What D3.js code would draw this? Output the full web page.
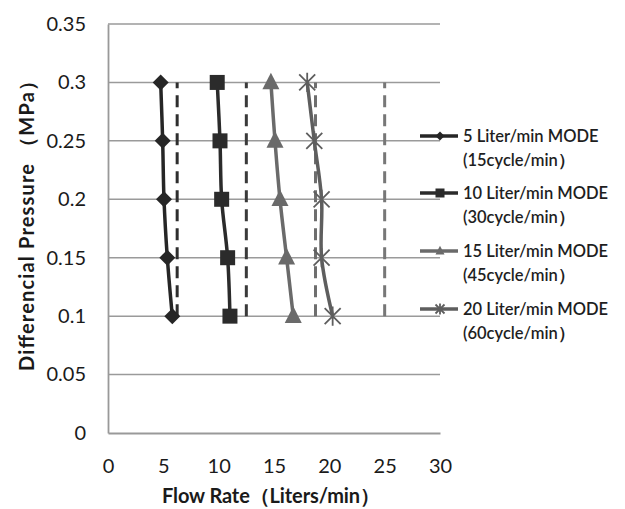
<!DOCTYPE html>
<html>
<head>
<meta charset="utf-8">
<script src="https://cdn.jsdelivr.net/npm/d3@7"></script>
<style>
  html, body { margin: 0; padding: 0; background: #fff; }
  svg { display: block; font-family: Lato, "Open Sans", sans-serif; }
</style>
</head>
<body>
<svg id="chart" width="625" height="509"></svg>
<script>
// Differential pressure levels (MPa) at which each mode was measured
const pressure = [0.3, 0.25, 0.2, 0.15, 0.1];

// Measured flow rate (L/min) per mode, ordered like `pressure`
const flow5  = [4.76, 4.94, 5.06, 5.36, 5.81];
const flow10 = [9.87, 10.12, 10.27, 10.81, 11.02];
const flow15 = [14.72, 15.09, 15.54, 16.14, 16.74];
const flow20 = [18.0, 18.64, 19.3, 19.3, 20.3];

// Nominal flow of each mode, drawn as dashed reference lines
const nominalFlow = [6.25, 12.5, 18.75, 25];
const nominalRange = [0.1, 0.3];

const seriesNames = [
  ["5 Liter/min MODE", "(15cycle/min）"],
  ["10 Liter/min MODE", "(30cycle/min）"],
  ["15 Liter/min MODE", "(45cycle/min）"],
  ["20 Liter/min MODE", "(60cycle/min）"]
];
const seriesMarkers = ["diamond", "square", "triangle", "asterisk"];
const seriesColors = ["#262626", "#2b2b2b", "#6a6a6a", "#5e5e5e"];
const nominalColors = ["#2e2e2e", "#3a3a3a", "#6e6e6e", "#777777"];

const xTicks = [0, 5, 10, 15, 20, 25, 30];
const yTicks = [0, 0.05, 0.1, 0.15, 0.2, 0.25, 0.3, 0.35];

const xTitle = "Flow Rate（Liters/min）";
const yTitle = "Differencial Pressure （MPa）";

const svg = d3.select("#chart");
const plot = { left: 108, right: 440, top: 24, bottom: 433 };

const x = d3.scaleLinear().domain([0, 30]).range([plot.left, plot.right]);
const y = d3.scaleLinear().domain([0, 0.35]).range([plot.bottom, plot.top]);

// Horizontal gridlines
svg.append("g")
  .selectAll("line")
  .data(yTicks.filter(d => d > 0))
  .join("line")
  .attr("x1", x(0)).attr("x2", x(30))
  .attr("y1", d => y(d)).attr("y2", d => y(d))
  .attr("stroke", "#9a9a9a").attr("stroke-width", 1.5);

// Axes (lines and labels, no tick marks)
const yAxis = svg.append("g")
  .attr("transform", `translate(${plot.left},0)`)
  .call(d3.axisLeft(y).tickValues(yTicks).tickSize(0).tickPadding(22)
    .tickFormat(d => String(+d.toFixed(2))));
const xAxis = svg.append("g")
  .attr("transform", `translate(0,${plot.bottom})`)
  .call(d3.axisBottom(x).tickValues(xTicks).tickSize(0).tickPadding(26));

[yAxis, xAxis].forEach(g => {
  g.select(".domain").attr("stroke", "#999").attr("stroke-width", 1.8);
  g.selectAll(".tick text")
    .attr("font-family", "Lato, sans-serif")
    .attr("font-size", 20)
    .attr("fill", "#1a1a1a");
});
xAxis.selectAll(".tick text").attr("dy", "0.71em");

// Dashed nominal-flow lines
svg.append("g")
  .selectAll("line")
  .data(nominalFlow)
  .join("line")
  .attr("x1", d => x(d)).attr("x2", d => x(d))
  .attr("y1", y(nominalRange[0])).attr("y2", y(nominalRange[1]))
  .attr("stroke", (d, i) => nominalColors[i])
  .attr("stroke-width", 3)
  .attr("stroke-dasharray", "12,7");

// Marker shapes
function drawMarker(g, type, color, s) {
  if (type === "diamond") {
    g.append("path").attr("d", `M0,${-s}L${s},0L0,${s}L${-s},0Z`).attr("fill", color);
  } else if (type === "square") {
    g.append("rect").attr("x", -s).attr("y", -s).attr("width", 2 * s).attr("height", 2 * s)
      .attr("fill", color);
  } else if (type === "triangle") {
    g.append("path").attr("d", `M0,${-s * 1.15}L${s},${s * 0.8}L${-s},${s * 0.8}Z`).attr("fill", color);
  } else {
    const p = `M${-s},${-s}L${s},${s}M${-s},${s}L${s},${-s}M0,${-s * 1.2}L0,${s * 1.2}`;
    g.append("path").attr("d", p).attr("stroke", color).attr("stroke-width", 1.8).attr("fill", "none");
  }
}

const allFlows = [flow5, flow10, flow15, flow20];
const markerSize = [8, 7.5, 8.5, 8];
const line = d3.line().x(d => x(d[0])).y(d => y(d[1])).curve(d3.curveCatmullRom.alpha(0.5));

allFlows.forEach((flows, i) => {
  const pts = flows.map((f, j) => [f, pressure[j]]);
  svg.append("path")
    .datum(pts)
    .attr("d", line)
    .attr("fill", "none")
    .attr("stroke", seriesColors[i])
    .attr("stroke-width", 3.5);
  svg.append("g")
    .selectAll("g")
    .data(pts)
    .join("g")
    .attr("transform", d => `translate(${x(d[0])},${y(d[1])})`)
    .each(function () { drawMarker(d3.select(this), seriesMarkers[i], seriesColors[i], markerSize[i]); });
});

// Legend
const legend = svg.append("g").attr("transform", "translate(420,0)");
const legendY = [136, 193, 251, 309];
seriesNames.forEach((name, i) => {
  const g = legend.append("g").attr("transform", `translate(0,${legendY[i]})`);
  g.append("line").attr("x1", 0).attr("x2", 38).attr("y1", 0).attr("y2", 0)
    .attr("stroke", seriesColors[i]).attr("stroke-width", 3.5);
  const m = g.append("g").attr("transform", "translate(20,0)");
  drawMarker(m, seriesMarkers[i], seriesColors[i], 4.5);
  const t = g.append("text").attr("x", 43).attr("y", 0)
    .attr("font-size", 16.5).attr("font-weight", 600).attr("fill", "#1e1e1e");
  t.append("tspan").attr("x", 43).attr("dy", "0.35em").text(name[0]);
  t.append("tspan").attr("x", 43).attr("dy", "1.45em").text(name[1]);
});

// Axis titles
svg.append("text")
  .attr("x", 271).attr("y", 503)
  .attr("text-anchor", "middle")
  .attr("font-size", 20).attr("font-weight", 700).attr("fill", "#1a1a1a")
  .attr("textLength", 218).attr("lengthAdjust", "spacing")
  .text(xTitle);
svg.append("text")
  .attr("transform", "translate(34,221) rotate(-90)")
  .attr("text-anchor", "middle")
  .attr("font-size", 20).attr("font-weight", 700).attr("fill", "#1a1a1a")
  .attr("textLength", 300).attr("lengthAdjust", "spacing")
  .text(yTitle);
</script>
</body>
</html>
